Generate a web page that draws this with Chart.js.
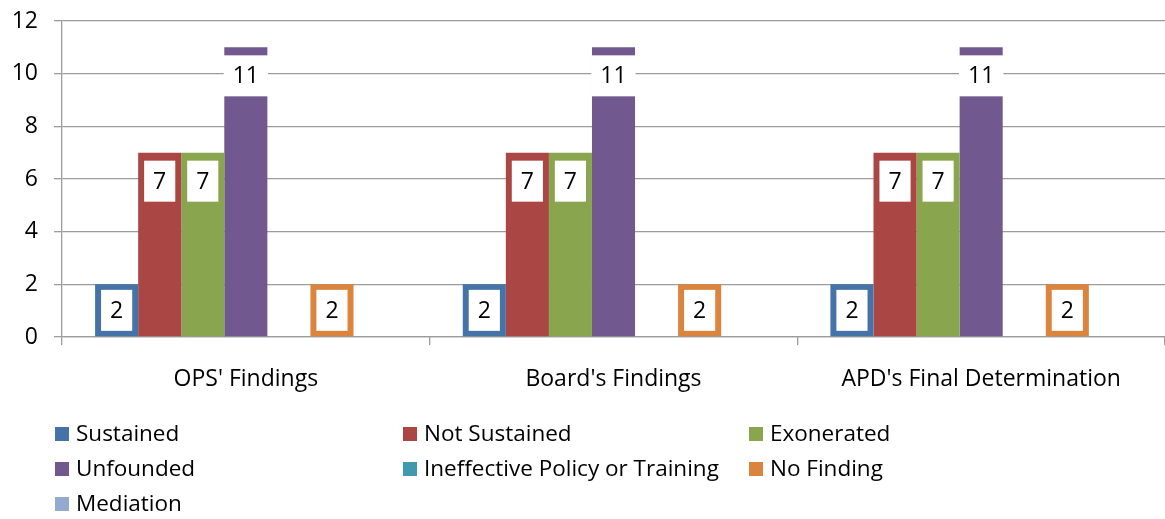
<!DOCTYPE html>
<html>
<head>
<meta charset="utf-8">
<script src="https://cdn.jsdelivr.net/npm/chart.js@4/dist/chart.umd.min.js"></script>
<style>
  html, body { margin: 0; padding: 0; background: #fff; }
  #wrap { position: relative; width: 1165px; height: 519px; }
  #legend { position: absolute; left: 0; top: 0; width: 1165px; height: 519px; pointer-events: none;
            font-family: "Open Sans", sans-serif; font-size: 22.5px; color: #000; }
  .li { position: absolute; white-space: nowrap; line-height: 30px; height: 30px; }
  .sw { position: absolute; width: 14px; height: 14px; top: 8px; left: 0; }
  .lt { position: absolute; left: 21px; top: -1px; }
</style>
</head>
<body>
<div id="wrap">
  <canvas id="c" width="1165" height="519"></canvas>
  <div id="legend"></div>
</div>
<script>
const categories = ["OPS' Findings", "Board's Findings", "APD's Final Determination"];
const seriesNames = ["Sustained", "Not Sustained", "Exonerated", "Unfounded", "Ineffective Policy or Training", "No Finding", "Mediation"];
const sustained = [2, 2, 2];
const notSustained = [7, 7, 7];
const exonerated = [7, 7, 7];
const unfounded = [11, 11, 11];
const ineffective = [0, 0, 0];
const noFinding = [2, 2, 2];
const mediation = [0, 0, 0];
const yTicks = [0, 2, 4, 6, 8, 10, 12];

const seriesValues = [sustained, notSustained, exonerated, unfounded, ineffective, noFinding, mediation];
const colors = ["#4572A7", "#AA4643", "#89A54E", "#71588F", "#4198AF", "#DB843D", "#93A9CF"];
const FONT = '"Open Sans", sans-serif';

const labelPlugin = {
  id: 'boxLabels',
  afterDatasetsDraw(chart) {
    const ctx = chart.ctx;
    ctx.save();
    ctx.font = '23px ' + FONT;
    ctx.textAlign = 'center';
    ctx.textBaseline = 'middle';
    chart.data.datasets.forEach((ds, di) => {
      const meta = chart.getDatasetMeta(di);
      meta.data.forEach((el, i) => {
        const v = ds.data[i];
        if (!v) return;
        const txt = String(v);
        const tw = ctx.measureText(txt).width;
        const bw = tw + 18, bh = 41;
        const top = el.y, bottom = el.base;
        let by;
        if (bottom - top >= bh + 16) by = top + 8;
        else by = (top + bottom) / 2 - bh / 2;
        ctx.fillStyle = '#fff';
        ctx.fillRect(el.x - bw / 2, by, bw, bh);
        ctx.fillStyle = '#000';
        ctx.fillText(txt, el.x, by + bh / 2 + 1);
      });
    });
    ctx.restore();
  }
};

const chart = new Chart(document.getElementById('c'), {
  type: 'bar',
  data: {
    labels: categories,
    datasets: seriesNames.map((n, k) => ({
      label: n,
      data: seriesValues[k],
      backgroundColor: colors[k],
      borderWidth: 0,
      categoryPercentage: 0.82,
      barPercentage: 1.0
    }))
  },
  options: {
    responsive: false,
    animation: false,
    layout: { padding: { top: 21, left: 0, right: 0, bottom: 122 } },
    plugins: { legend: { display: false }, tooltip: { enabled: false } },
    scales: {
      x: {
        grid: { offset: true, drawOnChartArea: false, drawTicks: true, tickLength: 8, color: '#9c9c9c', lineWidth: 1.3 },
        border: { color: '#9c9c9c', width: 1.3 },
        ticks: { font: { family: FONT, size: 23 }, color: '#000', padding: 21 },
        afterFit(s) { s.height = 60; s.paddingLeft = 0; s.paddingRight = 0; }
      },
      y: {
        min: 0, max: 12,
        afterBuildTicks(s) { s.ticks = yTicks.map(v => ({ value: v })); },
        grid: { color: '#9c9c9c', lineWidth: 1.3, tickLength: 8 },
        border: { color: '#9c9c9c', width: 1.3 },
        ticks: { font: { family: FONT, size: 23 }, color: '#000', padding: 16 },
        afterFit(s) { s.width = 62; s.paddingTop = 0; s.paddingBottom = 0; }
      }
    }
  },
  plugins: [labelPlugin]
});

// HTML legend in 3 columns
const legend = document.getElementById('legend');
const colX = [55, 403, 749];
const rowY = [419, 454, 489];
chart.data.datasets.forEach((ds, k) => {
  const d = document.createElement('div');
  d.className = 'li';
  d.style.left = colX[k % 3] + 'px';
  d.style.top = rowY[Math.floor(k / 3)] + 'px';
  const sw = document.createElement('span');
  sw.className = 'sw';
  sw.style.background = ds.backgroundColor;
  const t = document.createElement('span');
  t.className = 'lt';
  t.textContent = ds.label;
  d.appendChild(sw); d.appendChild(t);
  legend.appendChild(d);
});
</script>
</body>
</html>
